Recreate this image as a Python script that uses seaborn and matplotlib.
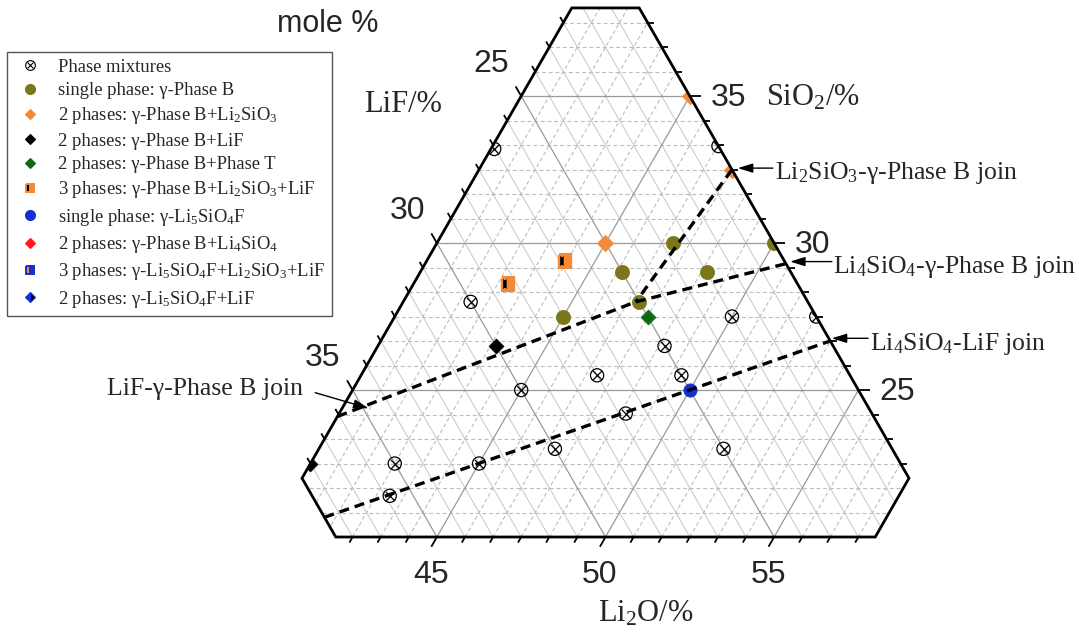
import numpy as np
import matplotlib
matplotlib.use("Agg")
import matplotlib.pyplot as plt
from matplotlib.patches import Polygon
from matplotlib.lines import Line2D
from matplotlib.collections import LineCollection
from matplotlib.legend_handler import HandlerTuple
import seaborn as sns

sns.set_style("white")
plt.rcParams["font.family"] = ["Liberation Serif", "DejaVu Serif"]
plt.rcParams.update({
    "mathtext.fontset": "custom",
    "mathtext.rm": "Liberation Serif",
    "mathtext.it": "Liberation Serif:italic",
    "mathtext.bf": "Liberation Serif:bold",
    "mathtext.default": "rm",
})

# ---------------------------------------------------------------------------
# Sample compositions in mole %: Li2O and SiO2 (LiF = 100 - Li2O - SiO2)
# ---------------------------------------------------------------------------
mix_li2o = [40.1, 46.7, 42.0, 50.0, 52.5, 48.5, 47.0, 49.5, 45.0, 48.5, 47.0, 52.0, 42.5, 45.0, 42.9]
mix_sio2 = [33.2, 33.3, 28.0, 27.5, 27.5, 26.5, 25.5, 25.5, 25.0, 24.2, 23.0, 23.0, 22.5, 22.5, 21.4]

phaseB_li2o = [47.0, 50.0, 46.0, 48.5, 47.0, 45.0]
phaseB_sio2 = [30.0, 30.0, 29.0, 29.0, 28.0, 27.5]

b_li2sio3_li2o = [45.0, 45.0, 47.5]
b_li2sio3_sio2 = [30.0, 35.0, 32.5]

b_lif_li2o = [43.5, 40.0]
b_lif_sio2 = [26.5, 22.5]

b_t_li2o = [47.5]
b_t_sio2 = [27.5]

b_li2sio3_lif_li2o = [44.1, 42.8]
b_li2sio3_lif_sio2 = [29.4, 28.6]

li5_li2o = [50.0]
li5_sio2 = [25.0]

# compatibility joins (start / end compositions)
join_labels = ["Li$_2$SiO$_3$-γ-Phase B join", "Li$_4$SiO$_4$-γ-Phase B join",
               "LiF-γ-Phase B join", "Li$_4$SiO$_4$-LiF join"]
join_li2o = [(47.5, 46.9), (46.9, 50.7), (40.0, 46.9), (41.33, 53.33)]
join_sio2 = [(32.5, 28.0), (28.0, 29.3), (24.1, 28.0), (20.67, 26.67)]
# where each join label arrow points
tip_li2o = [47.65, 50.79, 40.78, 53.33]
tip_sio2 = [32.55, 29.37, 24.38, 26.76]

# axis ticks
li2o_ticks = [45, 50, 55]
sio2_ticks = [25, 30, 35]
lif_ticks = [25, 30, 35]

# displayed composition window (hexagon corners)
hex_li2o = [40, 42, 58, 58, 42, 40]
hex_sio2 = [38, 38, 22, 20, 20, 22]

OLIVE = "#7a761a"
ORANGE = "#f58a36"
GREEN = "#0d6b12"
BLUE = "#1431cc"
RED = "#ff1a1a"

H = np.sqrt(3) / 2


def tern(li2o, sio2):
    """Ternary -> cartesian (Li2O right, SiO2 up, LiF left)."""
    li2o = np.asarray(li2o, dtype=float)
    sio2 = np.asarray(sio2, dtype=float)
    return li2o + sio2 / 2, sio2 * H


def pt(li2o, sio2):
    x, y = tern(li2o, sio2)
    return float(x), float(y)


def seg(li2o, sio2):
    x, y = tern(li2o, sio2)
    return np.column_stack([x, y])


fig = plt.figure(figsize=(10.79, 6.39), dpi=100)
ax = fig.add_axes([0, 0, 1, 1])
KX, KY = 33.72, 33.94          # pixels per composition unit
PX0, PY0 = 268.3, 537.0        # pixel position of Li2O 40 / SiO2 20 / LiF 40
bx, by = pt(40, 20)
ax.set_xlim(bx - PX0 / KX, bx + (1079 - PX0) / KX)
ax.set_ylim(by - (639 - PY0) / KY, by + PY0 / KY)
ax.axis("off")

hexagon = Polygon(seg(hex_li2o, hex_sio2), closed=True, transform=ax.transData)

# ---------------------------------------------------------------------------
# grid
# ---------------------------------------------------------------------------
step = 5 / 6
levels = 20 + step * np.arange(1, 24)


def is_major(v):
    return abs(v - 5 * round(v / 5)) < 1e-6


grid_major, grid_dash, grid_solid = [], [], []
for v in levels:
    s_line = seg([40, 80 - v], [v, v])              # SiO2 = v
    f_line = seg([40, 80 - v], [60 - v, 20])        # LiF = v
    l_line = seg([v + 20, v + 20], [20, 60 - v])    # Li2O = v + 20
    if is_major(v):
        grid_major += [s_line, f_line, l_line]
    else:
        grid_dash += [s_line, l_line]
        grid_solid.append(f_line)

for segs, kw in [
    (grid_solid, dict(colors="#cdcdcd", linewidths=0.8, zorder=1)),
    (grid_dash, dict(colors="#bcbcbc", linewidths=0.8, linestyles=[(0, (3.5, 2.5))], zorder=1)),
    (grid_major, dict(colors="#9a9a9a", linewidths=0.9, zorder=1.5)),
]:
    lc = LineCollection(segs, **kw)
    ax.add_collection(lc)
    lc.set_clip_path(hexagon)

# ---------------------------------------------------------------------------
# ticks and tick labels
# ---------------------------------------------------------------------------
tk_major, tk_minor = [], []
for v in levels:
    if not (22 < v < 38):
        continue
    L = 0.33 if is_major(v) else 0.19
    bucket = tk_major if is_major(v) else tk_minor
    bucket.append(seg([v + 20, v + 20], [20, 20 - L]))          # Li2O (bottom)
    bucket.append(seg([80 - v, 80 - v + L], [v, v]))            # SiO2 (right)
    bucket.append(seg([40, 40 - L], [60 - v, 60 - v + L]))      # LiF (left)
ax.add_collection(LineCollection(tk_major + tk_minor, colors="black", linewidths=1.3, zorder=6))

tick_font = dict(fontsize=23, family="Liberation Sans", va="baseline")
for t in li2o_ticks:
    ax.annotate(str(t), xy=pt(t, 20), xytext=(-6, -46), textcoords="offset pixels", ha="center", **tick_font)
for t in sio2_ticks:
    ax.annotate(str(t), xy=pt(80 - t, t), xytext=(21, -10), textcoords="offset pixels", ha="left", **tick_font)
for t in lif_ticks:
    ax.annotate(str(t), xy=pt(40, 60 - t), xytext=(-12, 24), textcoords="offset pixels", ha="right", **tick_font)

# window outline
ax.add_patch(Polygon(seg(hex_li2o, hex_sio2), closed=True, fill=False, edgecolor="black",
                     lw=2.0, zorder=7, joinstyle="miter"))

# ---------------------------------------------------------------------------
# samples
# ---------------------------------------------------------------------------
def scatter(li2o, sio2, **kw):
    x, y = tern(li2o, sio2)
    sns.scatterplot(x=x, y=y, ax=ax, legend=False, zorder=4, **kw)
    ax.collections[-1].set_clip_path(hexagon)


scatter(mix_li2o, mix_sio2, marker="o", s=90, color="black", facecolor="none",
        edgecolor="black", linewidth=0.9)
scatter(mix_li2o, mix_sio2, marker="x", s=45, color="black", linewidth=0.9)
scatter(phaseB_li2o, phaseB_sio2, marker="o", s=105, color=OLIVE, edgecolor=OLIVE, linewidth=0.5)
scatter(b_li2sio3_li2o, b_li2sio3_sio2, marker="D", s=70, color=ORANGE, edgecolor=ORANGE, linewidth=0.5)
scatter(b_lif_li2o, b_lif_sio2, marker="D", s=58, color="black", edgecolor="black", linewidth=0.5)
scatter(b_t_li2o, b_t_sio2, marker="D", s=58, color=GREEN, edgecolor=GREEN, linewidth=0.5)
scatter(li5_li2o, li5_sio2, marker="o", s=92, color=BLUE, edgecolor=BLUE, linewidth=0.5)

qx, qy = tern(b_li2sio3_lif_li2o, b_li2sio3_lif_sio2)
sq = ax.plot(qx, qy, linestyle="none", marker="s", ms=8.0, fillstyle="left",
             markerfacecolor="black", markerfacecoloralt=ORANGE, markeredgecolor=ORANGE,
             mew=1.7, zorder=4)[0]
sq.set_clip_path(hexagon)

# ---------------------------------------------------------------------------
# joins
# ---------------------------------------------------------------------------
for jl, js in zip(join_li2o, join_sio2):
    x, y = tern(jl, js)
    sns.lineplot(x=x, y=y, ax=ax, sort=False, estimator=None, color="black",
                 lw=2.4, linestyle=(0, (3, 1.8)), zorder=5, legend=False)
    ax.lines[-1].set_clip_path(hexagon)

arrow_tail = [(35, 0), (41.7, 0), (-53.3, 15.6), (36.3, 0)]
label_off = [(37, -10.5), (43, -11.6), (-65.3, 13.3), (38.3, -11.7)]
label_ha = ["left", "left", "right", "left"]
for lab, tl, ts, tail, off, ha in zip(join_labels, tip_li2o, tip_sio2, arrow_tail, label_off, label_ha):
    tip = pt(tl, ts)
    ax.annotate("", xy=tip, xytext=tail, textcoords="offset pixels",
                arrowprops=dict(arrowstyle="-|>,head_length=0.9,head_width=0.28", color="black",
                                lw=1.0, shrinkA=0, shrinkB=0, mutation_scale=10), zorder=8)
    ax.annotate(lab, xy=tip, xytext=off, textcoords="offset pixels", ha=ha, va="baseline",
                fontsize=18.5, zorder=8)

# ---------------------------------------------------------------------------
# titles
# ---------------------------------------------------------------------------
W, Hpx = 1079, 639
fig.text(277 / W, 1 - 32 / Hpx, "mole %", family="Liberation Sans", fontsize=22, va="baseline")
fig.text(364 / W, 1 - 111.5 / Hpx, "LiF/%", fontsize=22, va="baseline")
fig.text(766 / W, 1 - 105 / Hpx, "SiO$_2$/%", fontsize=22, va="baseline")
fig.text(598 / W, 1 - 621 / Hpx, "Li$_2$O/%", fontsize=22, va="baseline")

# ---------------------------------------------------------------------------
# legend
# ---------------------------------------------------------------------------
def mk(marker, face, ms, edge=None, alt=None, fill="full", mew=0.8):
    return Line2D([], [], linestyle="none", marker=marker, markersize=ms,
                  markerfacecolor=face, markeredgecolor=edge or face,
                  markerfacecoloralt=alt or face, fillstyle=fill, markeredgewidth=mew)


handles = [
    (mk("o", "none", 7.0, edge="black"), mk("x", "black", 5.0, edge="black")),
    mk("o", OLIVE, 7.2),
    mk("D", ORANGE, 5.4),
    mk("D", "black", 5.4),
    mk("D", GREEN, 5.4),
    mk("s", "black", 5.8, edge=ORANGE, alt=ORANGE, fill="left", mew=1.4),
    mk("o", BLUE, 7.2),
    mk("D", RED, 5.4),
    mk("s", ORANGE, 5.8, edge=BLUE, alt=BLUE, fill="left", mew=1.4),
    mk("D", BLUE, 5.4, edge=BLUE, alt="black", fill="left"),
]
labels = [
    "Phase mixtures",
    "single phase: γ-Phase B",
    "2 phases: γ-Phase B+Li$_2$SiO$_3$",
    "2 phases: γ-Phase B+LiF",
    "2 phases: γ-Phase B+Phase T",
    "3 phases: γ-Phase B+Li$_2$SiO$_3$+LiF",
    "single phase: γ-Li$_5$SiO$_4$F",
    "2 phases: γ-Phase B+Li$_4$SiO$_4$",
    "3 phases: γ-Li$_5$SiO$_4$F+Li$_2$SiO$_3$+LiF",
    "2 phases: γ-Li$_5$SiO$_4$F+LiF",
]
leg = ax.legend(handles, labels, handler_map={tuple: HandlerTuple(ndivide=1)},
                loc="upper left", bbox_to_anchor=(7 / W, 1 - 52 / Hpx), bbox_transform=fig.transFigure,
                borderaxespad=0, fontsize=13.4, frameon=True, fancybox=False, framealpha=1,
                edgecolor="#555555", borderpad=0.36, handlelength=1.75, handletextpad=0.62,
                labelspacing=0.34)
leg.get_frame().set_linewidth(1.0)

fig.savefig("out.png", dpi=100)
